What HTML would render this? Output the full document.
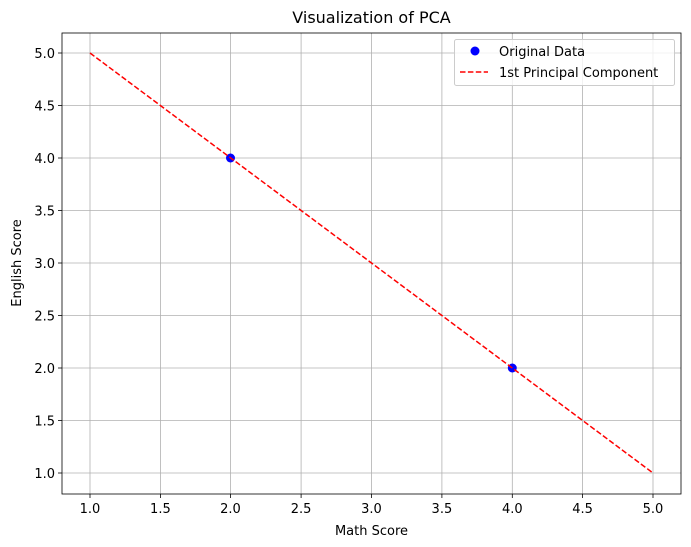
<!DOCTYPE html>
<html><head><style>body{margin:0;background:#fff}svg{display:block;font-family:"DejaVu Sans","Liberation Sans",sans-serif}</style></head>
<body>
<svg width="691" height="547" xmlns="http://www.w3.org/2000/svg">
<rect width="691" height="547" fill="#fff"/>
<g stroke="#b0b0b0" stroke-width="0.8">
<line x1="90" y1="33" x2="90" y2="494"/><line x1="160.4" y1="33" x2="160.4" y2="494"/><line x1="230.5" y1="33" x2="230.5" y2="494"/><line x1="301.1" y1="33" x2="301.1" y2="494"/><line x1="371.5" y1="33" x2="371.5" y2="494"/><line x1="441.9" y1="33" x2="441.9" y2="494"/><line x1="512.3" y1="33" x2="512.3" y2="494"/><line x1="582.6" y1="33" x2="582.6" y2="494"/><line x1="653" y1="33" x2="653" y2="494"/>
<line x1="62" y1="473" x2="681" y2="473"/><line x1="62" y1="420.5" x2="681" y2="420.5"/><line x1="62" y1="368" x2="681" y2="368"/><line x1="62" y1="315.5" x2="681" y2="315.5"/><line x1="62" y1="263" x2="681" y2="263"/><line x1="62" y1="210.5" x2="681" y2="210.5"/><line x1="62" y1="158" x2="681" y2="158"/><line x1="62" y1="105.5" x2="681" y2="105.5"/><line x1="62" y1="53" x2="681" y2="53"/>
</g>
<circle cx="230.5" cy="158" r="4.5" fill="#0000ff"/>
<circle cx="512.3" cy="368" r="4.5" fill="#0000ff"/>
<line x1="90" y1="53" x2="653" y2="473" stroke="#ff0000" stroke-width="1.5" stroke-dasharray="5.5,2.4"/>
<rect x="62" y="33" width="619" height="461" fill="none" stroke="#000" stroke-width="0.8"/>
<g stroke="#000" stroke-width="0.8">
<line x1="90" y1="494" x2="90" y2="498"/><line x1="160.4" y1="494" x2="160.4" y2="498"/><line x1="230.5" y1="494" x2="230.5" y2="498"/><line x1="301.1" y1="494" x2="301.1" y2="498"/><line x1="371.5" y1="494" x2="371.5" y2="498"/><line x1="441.9" y1="494" x2="441.9" y2="498"/><line x1="512.3" y1="494" x2="512.3" y2="498"/><line x1="582.6" y1="494" x2="582.6" y2="498"/><line x1="653" y1="494" x2="653" y2="498"/>
<line x1="58" y1="473" x2="62" y2="473"/><line x1="58" y1="420.5" x2="62" y2="420.5"/><line x1="58" y1="368" x2="62" y2="368"/><line x1="58" y1="315.5" x2="62" y2="315.5"/><line x1="58" y1="263" x2="62" y2="263"/><line x1="58" y1="210.5" x2="62" y2="210.5"/><line x1="58" y1="158" x2="62" y2="158"/><line x1="58" y1="105.5" x2="62" y2="105.5"/><line x1="58" y1="53" x2="62" y2="53"/>
</g>
<g font-size="13" fill="#000" text-anchor="middle">
<text x="90" y="513">1.0</text><text x="160.4" y="513">1.5</text><text x="230.5" y="513">2.0</text><text x="301.1" y="513">2.5</text><text x="371.5" y="513">3.0</text><text x="441.9" y="513">3.5</text><text x="512.3" y="513">4.0</text><text x="582.6" y="513">4.5</text><text x="653" y="513">5.0</text>
</g>
<g font-size="13" fill="#000" text-anchor="end">
<text x="55" y="478">1.0</text><text x="55" y="425.5">1.5</text><text x="55" y="373">2.0</text><text x="55" y="320.5">2.5</text><text x="55" y="268">3.0</text><text x="55" y="215.5">3.5</text><text x="55" y="163">4.0</text><text x="55" y="110.5">4.5</text><text x="55" y="58">5.0</text>
</g>
<text x="371.5" y="535" font-size="13" text-anchor="middle">Math Score</text>
<text x="21" y="263" font-size="13" text-anchor="middle" transform="rotate(-90 21 263)">English Score</text>
<text x="371.5" y="23" font-size="16" text-anchor="middle">Visualization of PCA</text>
<rect x="454.5" y="39.5" width="220" height="46" rx="2" fill="#fff" fill-opacity="0.8" stroke="#ccc"/>
<circle cx="475" cy="51" r="4.5" fill="#0000ff"/>
<text x="499" y="56" font-size="13">Original Data</text>
<line x1="460" y1="72" x2="488" y2="72" stroke="#ff0000" stroke-width="1.5" stroke-dasharray="5.5,2.4"/>
<text x="499" y="77" font-size="13">1st Principal Component</text>
</svg>
</body></html>
